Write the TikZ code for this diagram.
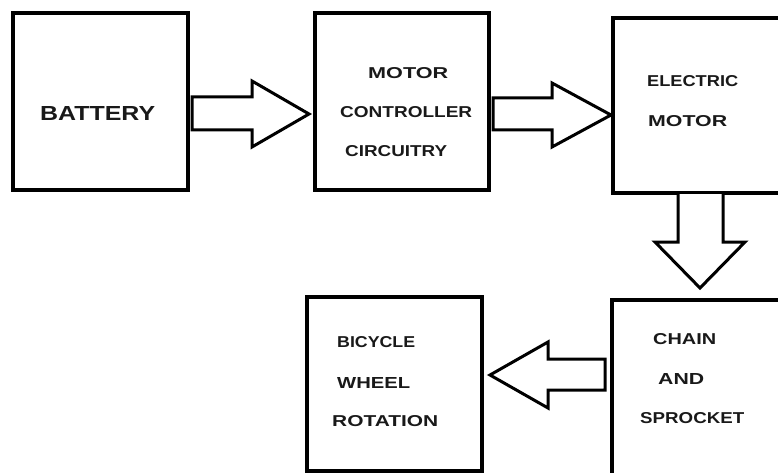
\documentclass[tikz,border=0pt]{standalone}
\usepackage{fontspec}
\setmainfont{Liberation Sans}
\usepackage{graphicx}
\begin{document}
\begin{tikzpicture}[x=1pt,y=-1pt,
  blk/.style={draw=black,line width=3.2pt},
  barrow/.style={draw=black,line width=3pt,line join=miter,fill=white},
  lbl/.style={anchor=west,inner sep=0pt,text=black!90,font=\bfseries}]
\useasboundingbox (0,0) rectangle (778,473);
\clip (0,0) rectangle (778,473);
% boxes
\draw[blk] (13,13) rectangle (188,190);
\node[inner sep=0pt] (battery) at (100.5,101.5) {};
\draw[blk] (315,13) rectangle (489,190);
\node[inner sep=0pt] (controller) at (402,101.5) {};
\draw[blk] (613,18) rectangle (800,193);
\node[inner sep=0pt] (motor) at (700,105) {};
\draw[blk] (612,300) rectangle (800,520);
\node[inner sep=0pt] (chain) at (700,400) {};
\draw[blk] (307,297) rectangle (482,471);
\node[inner sep=0pt] (bicycle) at (394,384) {};
% block arrows
\draw[barrow] (192,97) -- (252,97) -- (252,81) -- (309,114) -- (252,147) -- (252,130) -- (192,130) -- cycle;
\draw[barrow] (493,98) -- (552,98) -- (552,83) -- (611,115) -- (552,147) -- (552,130) -- (493,130) -- cycle;
\draw[barrow] (678,194) -- (678,242) -- (655,242) -- (700,288) -- (745,242) -- (723,242) -- (723,194);
\draw[barrow] (605,359) -- (548,359) -- (548,342) -- (490,375) -- (548,408) -- (548,390) -- (605,390) -- cycle;
% labels
\node[lbl] (tbat) at (40,114) {\resizebox{115pt}{14pt}{BATTERY}};
\node[lbl] (tc1) at (368,73) {\resizebox{80pt}{11pt}{MOTOR}};
\node[lbl] (tc2) at (340,112) {\resizebox{132pt}{11pt}{CONTROLLER}};
\node[lbl] (tc3) at (345,151) {\resizebox{102pt}{11pt}{CIRCUITRY}};
\node[lbl] (tm1) at (647,81) {\resizebox{91pt}{11pt}{ELECTRIC}};
\node[lbl] (tm2) at (648,121) {\resizebox{79pt}{11pt}{MOTOR}};
\node[lbl] (tch1) at (653,339) {\resizebox{63pt}{11pt}{CHAIN}};
\node[lbl] (tch2) at (658,379) {\resizebox{46pt}{11pt}{AND}};
\node[lbl] (tch3) at (640,418) {\resizebox{104pt}{11pt}{SPROCKET}};
\node[lbl] (tb1) at (337,342.5) {\resizebox{78pt}{11pt}{BICYCLE}};
\node[lbl] (tb2) at (337,382.5) {\resizebox{73pt}{11pt}{WHEEL}};
\node[lbl] (tb3) at (332,421) {\resizebox{106pt}{11pt}{ROTATION}};
\end{tikzpicture}
\end{document}
